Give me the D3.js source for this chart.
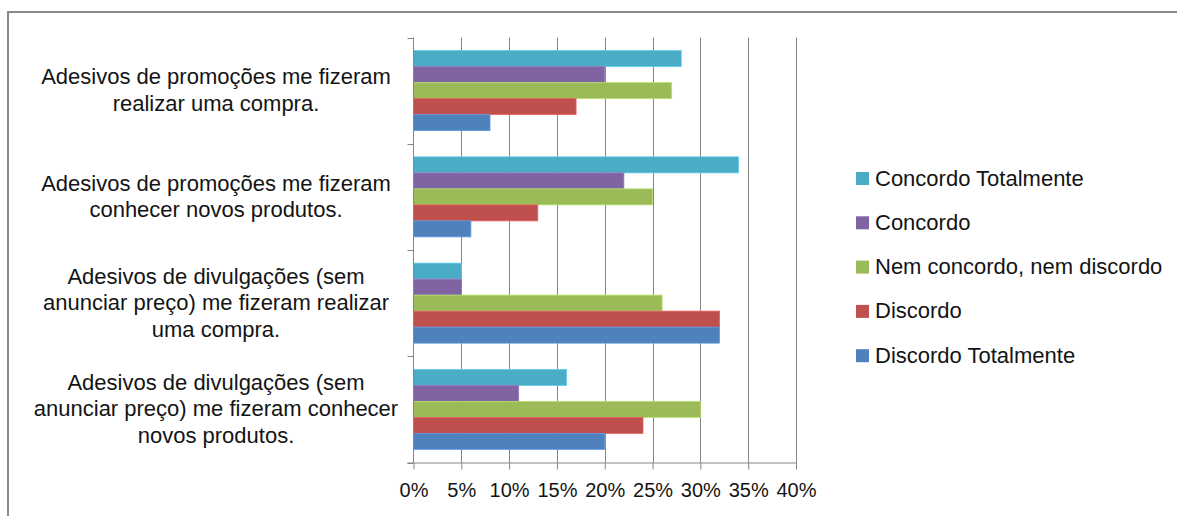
<!DOCTYPE html>
<html>
<head>
<meta charset="utf-8">
<script src="https://cdn.jsdelivr.net/npm/d3@7"></script>
<style>
  html, body { margin: 0; padding: 0; background: #fff; }
  svg { display: block; font-family: "Liberation Sans", Arial, sans-serif; }
</style>
</head>
<body>
<svg id="chart" width="1177" height="516"></svg>
<script>
// Survey statements, listed top to bottom, each split into its display lines
const categories = [
  ["Adesivos de promoções me fizeram", "realizar uma compra."],
  ["Adesivos de promoções me fizeram", "conhecer novos produtos."],
  ["Adesivos de divulgações (sem", "anunciar preço) me fizeram realizar", "uma compra."],
  ["Adesivos de divulgações (sem", "anunciar preço) me fizeram conhecer", "novos produtos."]
];

// Answer shares (%) per statement, same order as categories
const concordoTotalmente = [28, 34, 5, 16];
const concordo           = [20, 22, 5, 11];
const nemConcordoNem     = [27, 25, 26, 30];
const discordo           = [17, 13, 32, 24];
const discordoTotalmente = [8, 6, 32, 20];

const seriesNames = ["Concordo Totalmente", "Concordo", "Nem concordo, nem discordo", "Discordo", "Discordo Totalmente"];
const seriesValues = [concordoTotalmente, concordo, nemConcordoNem, discordo, discordoTotalmente];
const seriesColors = ["#4BACC6", "#8064A2", "#9BBB59", "#C0504D", "#4F81BD"];

const xTicks = [0, 5, 10, 15, 20, 25, 30, 35, 40];

const svg = d3.select("#chart");
const plotLeft = 413.5, plotRight = 796, plotTop = 37.5, plotBottom = 462.5;
const axisColor = "#868686";
const textColor = "#141414";

// outer frame (left and top edges)
svg.append("path")
  .attr("d", "M8,516 V12 H1177")
  .attr("fill", "none").attr("stroke", "#8a8a8a").attr("stroke-width", 2);

const x = d3.scaleLinear().domain([0, 40]).range([plotLeft, plotRight]);
const catIdx = d3.range(categories.length);
const y0 = d3.scaleBand().domain(catIdx).range([plotTop, plotBottom]).padding(0);
const y1 = d3.scaleBand().domain(d3.range(seriesNames.length))
  .range([0, y0.bandwidth()]).paddingInner(0).paddingOuter(0.82);

// vertical gridlines
svg.append("g").selectAll("line").data(xTicks.slice(1)).join("line")
  .attr("x1", d => Math.round(x(d)) + 0.5).attr("x2", d => Math.round(x(d)) + 0.5)
  .attr("y1", plotTop).attr("y2", plotBottom)
  .attr("stroke", axisColor).attr("stroke-width", 1);

// bars
const rows = [];
seriesValues.forEach((vals, s) => vals.forEach((v, c) => rows.push({ s, c, v })));
svg.append("g").selectAll("rect").data(rows).join("rect")
  .attr("x", x(0))
  .attr("y", d => y0(d.c) + y1(d.s))
  .attr("width", d => x(d.v) - x(0))
  .attr("height", y1.bandwidth())
  .attr("fill", d => seriesColors[d.s])
  .attr("stroke", d => d3.color(seriesColors[d.s]).brighter(0.5))
  .attr("stroke-width", 0.8);

// x axis
const xAxis = d3.axisBottom(x).tickValues(xTicks).tickSizeInner(7).tickSizeOuter(0)
  .tickFormat(d => d + "%");
const gx = svg.append("g").attr("transform", `translate(0,${plotBottom})`).call(xAxis);
gx.select(".domain").attr("stroke", axisColor).attr("d", `M${plotLeft - 6},0.5H${plotRight}`);
gx.selectAll(".tick line").attr("stroke", axisColor);
gx.selectAll(".tick text")
  .attr("fill", textColor).attr("font-size", 20)
  .attr("font-family", "Liberation Sans, Arial, sans-serif")
  .attr("dy", "1.2em");

// y axis with ticks on category boundaries
const gy = svg.append("g");
gy.append("line").attr("x1", plotLeft).attr("x2", plotLeft).attr("y1", plotTop).attr("y2", plotBottom)
  .attr("stroke", axisColor);
const bounds = catIdx.map(i => y0(i)).concat([plotBottom]);
gy.selectAll("line.tk").data(bounds).join("line").attr("class", "tk")
  .attr("x1", plotLeft - 6).attr("x2", plotLeft)
  .attr("y1", d => Math.round(d) + 0.5).attr("y2", d => Math.round(d) + 0.5)
  .attr("stroke", axisColor);

// category labels
const lineH = 26.5;
const labels = svg.append("g").attr("fill", textColor).attr("font-size", 22)
  .attr("text-anchor", "middle");
categories.forEach((lines, i) => {
  const cy = y0(i) + y0.bandwidth() / 2;
  const t = labels.append("text").attr("x", 216)
    .attr("y", cy - (lines.length - 1) * lineH / 2 + 7);
  lines.forEach((ln, k) => {
    t.append("tspan").attr("x", 216).attr("dy", k === 0 ? 0 : lineH).text(ln);
  });
});

// legend
const legend = svg.append("g").attr("transform", "translate(856,178)");
const items = legend.selectAll("g").data(seriesNames).join("g")
  .attr("transform", (d, i) => `translate(0,${i * 44.3})`);
items.append("rect").attr("x", 0).attr("y", -6).attr("width", 13).attr("height", 13)
  .attr("fill", (d, i) => seriesColors[i]);
items.append("text").attr("x", 19).attr("y", 7.5)
  .attr("font-size", 22).attr("fill", textColor).text(d => d);
</script>
</body>
</html>
